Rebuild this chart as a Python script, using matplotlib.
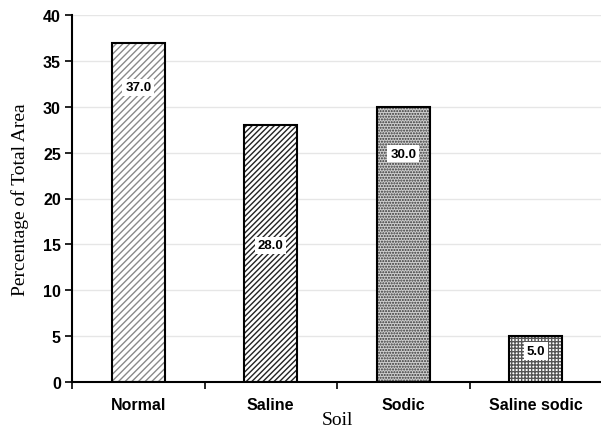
import matplotlib
matplotlib.use("Agg")
import matplotlib.pyplot as plt
import numpy as np

categories = ["Normal", "Saline", "Sodic", "Saline sodic"]
values = [37.0, 28.0, 30.0, 5.0]
label_y = [32.1, 14.9, 24.9, 3.4]
hatches = ["/////", "//////", "......", "+++++"]
hatch_colors = ["#8a8a8a", "#222222", "#333333", "#555555"]
face_colors = ["white", "white", "#cfcfcf", "white"]

plt.rcParams['hatch.linewidth'] = 1.0
fig = plt.figure(figsize=(6.01, 4.31), dpi=100)
ax = fig.add_axes([72/601, 1-383/431, 530/601, (383-16)/431])

x = np.arange(len(categories))
for i, (v, h, hc, fc) in enumerate(zip(values, hatches, hatch_colors, face_colors)):
    ax.bar(x[i], v, width=0.4, color=fc, edgecolor=hc, hatch=h, linewidth=0, zorder=2)
    ax.bar(x[i], v, width=0.4, fill=False, edgecolor="black", linewidth=1.5, zorder=3)
    ax.text(x[i], label_y[i], f"{v:.1f}", ha="center", va="center", fontsize=9.5,
            fontweight="bold", family="Liberation Sans", zorder=4,
            bbox=dict(facecolor="white", edgecolor="none", pad=2))

ax.set_xlim(-0.5, 3.5)
ax.set_ylim(0, 40)
ax.set_yticks(range(0, 41, 5))
ax.set_xticks(x)
ax.set_xticklabels(categories)
ax.set_xticks(np.arange(-0.5, 3.6, 1), minor=True)
ax.tick_params(axis="x", which="major", length=0, pad=11)
ax.tick_params(axis="x", which="minor", length=5, width=1.2, direction="out")
ax.tick_params(axis="y", length=5, width=1.2, direction="out", pad=3)
for lbl in ax.get_xticklabels() + ax.get_yticklabels():
    lbl.set_fontfamily("Liberation Sans")
    lbl.set_fontweight("bold")
    lbl.set_fontsize(11.5)

ax.grid(axis="y", color="#e6e6e6", linewidth=1, zorder=0)
ax.set_axisbelow(True)
for s in ["top", "right"]:
    ax.spines[s].set_visible(False)
for s in ["left", "bottom"]:
    ax.spines[s].set_linewidth(1.5)

ax.set_ylabel("Percentage of Total Area", family="Liberation Serif", fontsize=14, labelpad=10)
ax.set_xlabel("Soil", family="Liberation Serif", fontsize=14, labelpad=-1)

fig.savefig("out.png", dpi=100)
